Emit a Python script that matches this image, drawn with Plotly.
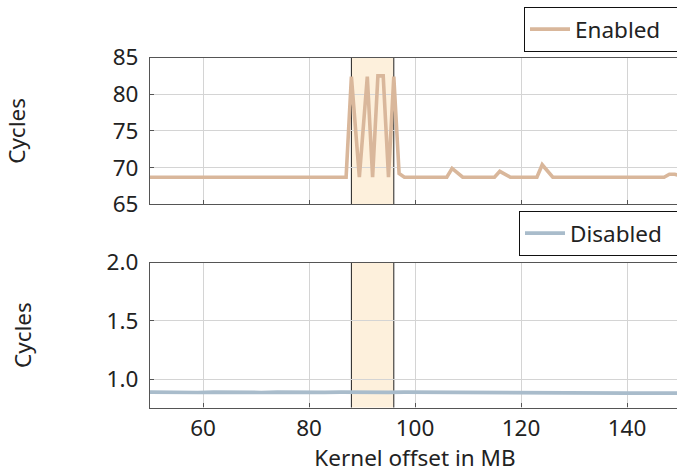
import plotly.graph_objects as go

# ---- data ----
enabled_x = [50, 87, 88, 89.5, 91, 92, 93, 94, 95, 96, 97, 98, 106, 107, 109, 115, 116, 118, 123, 124, 126, 147, 148, 149, 150]
enabled_y = [68.7, 68.7, 82.4, 68.7, 82.4, 68.7, 82.5, 82.5, 68.7, 82.4, 69.2, 68.7, 68.7, 69.9, 68.7, 68.7, 69.5, 68.7, 68.7, 70.4, 68.7, 68.7, 69.1, 69.1, 68.9]

disabled_x = [50, 53, 56, 59, 62, 65, 68, 71, 74, 77, 80, 83, 86, 89, 92, 95, 98, 101, 104, 107, 110, 113, 116, 119, 125, 130, 140, 150]
disabled_y = [0.889, 0.886, 0.889, 0.886, 0.889, 0.887, 0.889, 0.886, 0.889, 0.887, 0.889, 0.887, 0.889, 0.886, 0.889, 0.887, 0.889, 0.888, 0.886, 0.889, 0.889, 0.889, 0.888, 0.881, 0.880, 0.880, 0.880, 0.880]

band = [88, 96]
x_ticks = [60, 80, 100, 120, 140]
top_ticks = [65, 70, 75, 80, 85]
bottom_ticks = [1.0, 1.5, 2.0]

FONT = "Noto Sans"
TXT = "#222222"
GRID = "#d4d4d4"
AXIS = "#555555"

fig = go.Figure()
fig.add_trace(go.Scatter(x=enabled_x, y=enabled_y, mode="lines", name="Enabled", showlegend=True,
                         line=dict(color="#d9b79b", width=3.6), xaxis="x", yaxis="y", legend="legend"))
fig.add_trace(go.Scatter(x=disabled_x, y=disabled_y, mode="lines", name="Disabled", showlegend=True,
                         line=dict(color="#a9bccb", width=3.6), xaxis="x2", yaxis="y2", legend="legend2"))

shapes = []
for xr, yr in (("x", "y"), ("x2", "y2")):
    shapes.append(dict(type="rect", xref=xr, yref=f"{yr} domain", x0=band[0], x1=band[1], y0=0, y1=1,
                       fillcolor="#fdf0dc", line=dict(width=0), layer="below"))
    for bx in band:
        shapes.append(dict(type="line", xref=xr, yref=f"{yr} domain", x0=bx, x1=bx, y0=0, y1=1,
                           line=dict(color="#222222", width=1), layer="below"))

xcommon = dict(range=[50, 150], tickvals=x_ticks, showgrid=True, gridcolor=GRID, gridwidth=1,
               showline=True, linecolor=AXIS, linewidth=1.2, mirror=True, zeroline=False,
               ticks="inside", ticklen=4, tickcolor=AXIS, tickfont=dict(size=22.5, color=TXT, family=FONT))
ycommon = dict(showgrid=True, gridcolor=GRID, gridwidth=1, showline=True, linecolor=AXIS, linewidth=1.2,
               mirror=True, zeroline=False, ticks="inside", ticklen=4, tickcolor=AXIS,
               tickfont=dict(size=22.5, color=TXT, family=FONT), ticklabelstandoff=6)

H = 473.0
PW = 530.0
legend_common = dict(orientation="h", xanchor="left", yanchor="top", bordercolor="#111111", borderwidth=1,
                     bgcolor="white", font=dict(size=22.5, color=TXT, family=FONT), itemwidth=40,
                     entrywidthmode="pixels", entrywidth=175)
fig.update_layout(
    width=680, height=473,
    margin=dict(l=150, r=0, t=0, b=0, autoexpand=False),
    showlegend=True,
    paper_bgcolor="white", plot_bgcolor="white",
    font=dict(family=FONT, color=TXT),
    shapes=shapes,
    xaxis=dict(xcommon, anchor="y", showticklabels=False),
    xaxis2=dict(xcommon, anchor="y2",
                title=dict(text="Kernel offset in MB", font=dict(size=22.5, color=TXT, family=FONT), standoff=15)),
    yaxis=dict(ycommon, domain=[(H - 204.4) / H, (H - 57.5) / H], range=[65, 85], tickvals=top_ticks,
               anchor="x", title=dict(text="Cycles", font=dict(size=22.5, color=TXT, family=FONT), standoff=80)),
    yaxis2=dict(ycommon, domain=[(H - 407.5) / H, (H - 262.6) / H], range=[0.757, 2.0],
                tickvals=bottom_ticks, tickformat=".1f", anchor="x2",
                title=dict(text="Cycles", font=dict(size=22.5, color=TXT, family=FONT), standoff=68)),
    legend=dict(legend_common, x=(524 - 150) / PW, y=(H - 7) / H),
    legend2=dict(legend_common, x=(519 - 150) / PW, y=(H - 211) / H),
)

fig.write_html("out.html", config={"displayModeBar": False},
               post_script="document.body.style.margin='0';document.body.style.overflow='hidden';")
